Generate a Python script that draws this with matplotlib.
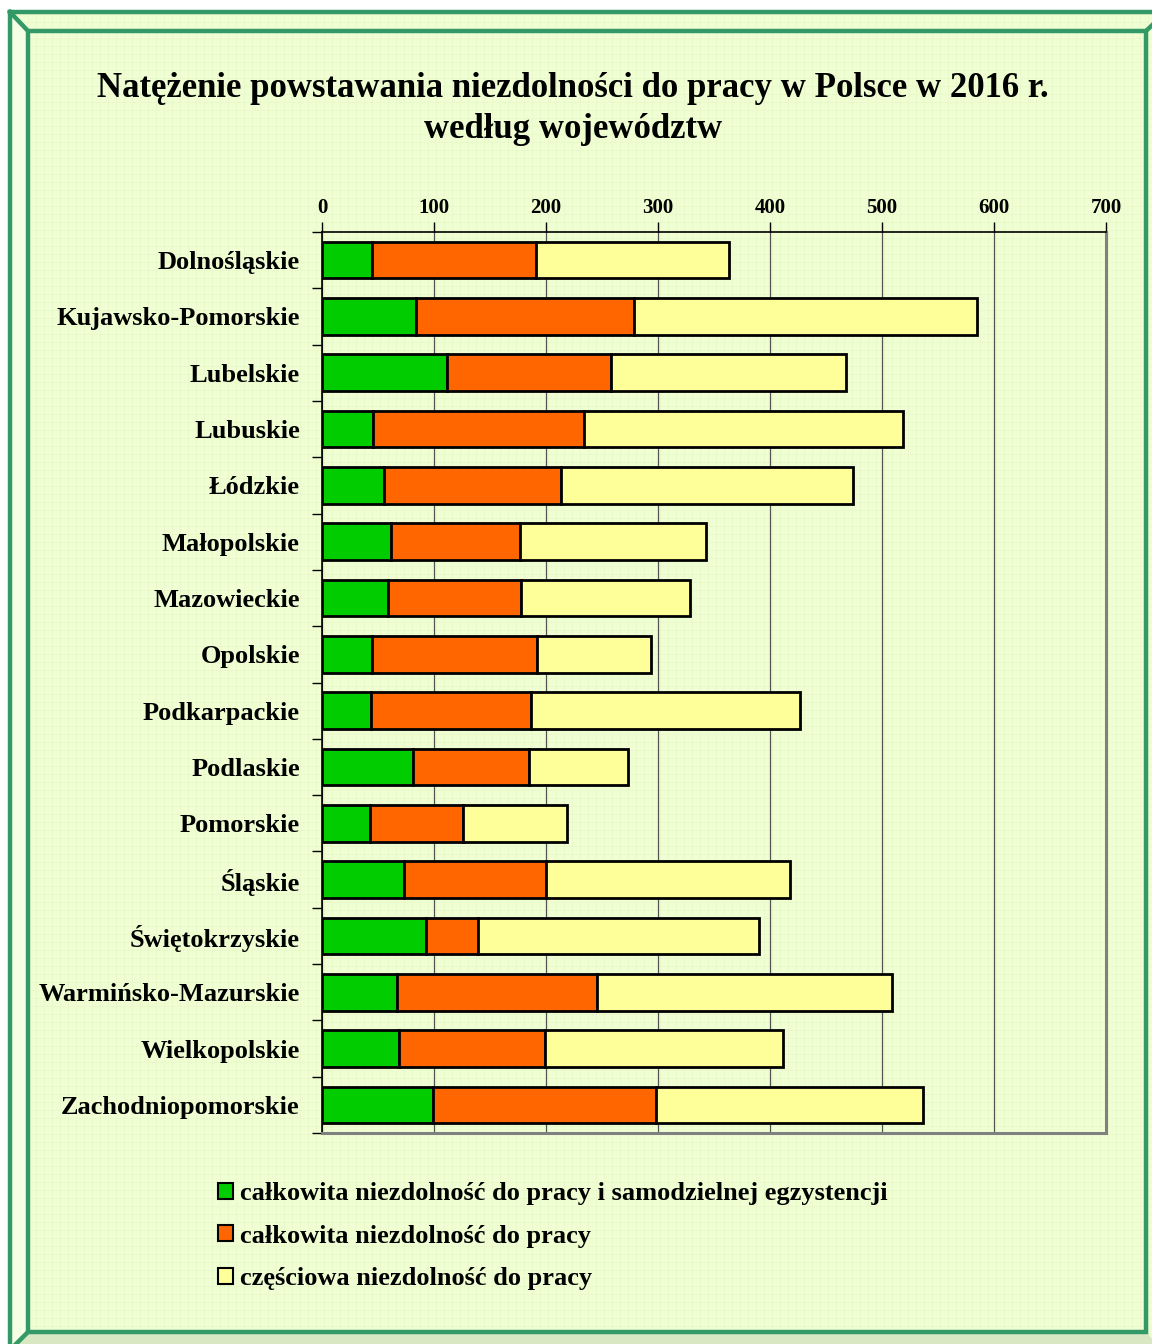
import matplotlib
matplotlib.use("Agg")
import matplotlib.pyplot as plt
import numpy as np
from matplotlib.patches import Rectangle, Polygon
from matplotlib.lines import Line2D

regions = ["Dolnośląskie", "Kujawsko-Pomorskie", "Lubelskie", "Lubuskie", "Łódzkie",
           "Małopolskie", "Mazowieckie", "Opolskie", "Podkarpackie", "Podlaskie",
           "Pomorskie", "Śląskie", "Świętokrzyskie", "Warmińsko-Mazurskie",
           "Wielkopolskie", "Zachodniopomorskie"]
green = [44.6, 84, 111.6, 45.5, 55, 61.6, 59, 44.6, 43.8, 81, 43, 73, 93, 67, 69, 99]
orange = [146.4, 194.6, 146.4, 188.5, 158, 115.4, 119, 147.4, 142.8, 104, 83, 127, 46, 178.5, 130, 199]
yellow = [172, 306.4, 210, 285, 261, 166, 150.6, 102, 240.4, 88, 93, 218, 251, 263.5, 212.6, 239]
series_labels = ["całkowita niezdolność do pracy i samodzielnej egzystencji",
                 "całkowita niezdolność do pracy",
                 "częściowa niezdolność do pracy"]
series_colors = ["#00CC00", "#FF6600", "#FFFF99"]
xticks = [0, 100, 200, 300, 400, 500, 600, 700]
title = "Natężenie powstawania niezdolności do pracy w Polsce w 2016 r.\nwedług województw"

W, H = 1152, 1344
plt.rcParams['font.family'] = ['Liberation Serif', 'DejaVu Serif']
plt.rcParams['font.weight'] = 'bold'
fig = plt.figure(figsize=(W / 100, H / 100), dpi=100)
fig.patch.set_facecolor("white")

# background / frame axes
bg = fig.add_axes([0, 0, 1, 1], zorder=0)
bg.set_xlim(0, W)
bg.set_ylim(H, 0)
bg.axis("off")
bgcol = "#F0FED4"
bg.add_patch(Rectangle((10, 12), W, H, facecolor=bgcol, edgecolor="none", zorder=0))
for gx in np.arange(12, W, 8):
    bg.add_line(Line2D([gx, gx], [12, H], color="#E6F8C6", lw=0.5, zorder=0.5))
for gy in np.arange(14, H, 8):
    bg.add_line(Line2D([10, W], [gy, gy], color="#E6F8C6", lw=0.5, zorder=0.5))
# bevel bands
bg.add_patch(Polygon([[10, H + 10], [28, 1332], [1146, 1332], [1166, H + 10]],
                     closed=True, facecolor="#D9E8C2", edgecolor="none", zorder=1))
bg.add_patch(Polygon([[10, 12], [28, 31], [28, 1332], [10, H + 10]],
                     closed=True, facecolor="#F5FFE4", edgecolor="none", zorder=1))
fc = "#339966"
lw = 3.2
bg.add_line(Line2D([10, 1166], [12, 12], color=fc, lw=lw, zorder=5))
bg.add_line(Line2D([10, 10], [12, H + 5], color=fc, lw=lw, zorder=5))
bg.add_patch(Rectangle((28, 31), 1146 - 28, 1332 - 31, facecolor="none", edgecolor=fc, lw=lw, zorder=5))
bg.add_line(Line2D([10, 28], [12, 31], color=fc, lw=lw, zorder=5))
bg.add_line(Line2D([1146, 1166], [31, 12], color=fc, lw=lw, zorder=5))
bg.add_line(Line2D([28, 10], [1332, 1350], color=fc, lw=lw, zorder=5))

# main chart
left, right, top, bottom = 322, 1106, 232, 1133
ax = fig.add_axes([left / W, 1 - bottom / H, (right - left) / W, (bottom - top) / H], zorder=2)
ax.set_facecolor("none")
y = np.arange(len(regions))
g = np.array(green); o = np.array(orange); yl = np.array(yellow)
bh = 0.65
ax.barh(y, g, height=bh, color=series_colors[0], edgecolor="black", lw=2, label=series_labels[0], zorder=3)
ax.barh(y, o, left=g, height=bh, color=series_colors[1], edgecolor="black", lw=2, label=series_labels[1], zorder=3)
ax.barh(y, yl, left=g + o, height=bh, color=series_colors[2], edgecolor="black", lw=2, label=series_labels[2], zorder=3)

ax.set_xlim(0, 700)
ax.set_ylim(len(regions) - 0.5, -0.5)
ax.xaxis.tick_top()
ax.set_xticks(xticks)
ax.set_xticklabels([str(t) for t in xticks], fontsize=15, fontweight="bold")
ax.tick_params(axis="x", direction="out", length=7, width=1, pad=3, colors="black")
ax.grid(axis="x", color="#555555", lw=0.9, zorder=1)
ax.set_yticks(y)
ax.set_yticklabels(regions, fontsize=19, fontweight="bold")
ax.tick_params(axis="y", which="major", length=0, pad=16)
ax.set_yticks(np.arange(-0.5, len(regions), 1), minor=True)
ax.tick_params(axis="y", which="minor", length=7, width=1, direction="out")
for s in ["top", "left"]:
    ax.spines[s].set_color("black")
    ax.spines[s].set_linewidth(1.2)
for s in ["right", "bottom"]:
    ax.spines[s].set_color("#808080")
    ax.spines[s].set_linewidth(2.2)

fig.text(573 / W, 1 - 109 / H, title, ha="center", va="center", fontsize=25,
         fontweight="bold", linespacing=1.3)

leg = ax.legend(loc="upper left", bbox_to_anchor=(218 / W, 1 - 1182 / H),
                bbox_transform=fig.transFigure, frameon=False, fontsize=19,
                handlelength=0.55, handleheight=0.55, handletextpad=0.3,
                labelspacing=0.74, borderpad=0, borderaxespad=0)
for t in leg.get_texts():
    t.set_fontweight("bold")
for p in leg.get_patches():
    p.set_linewidth(1.5)

fig.savefig("out.png", dpi=100, facecolor=fig.get_facecolor())
